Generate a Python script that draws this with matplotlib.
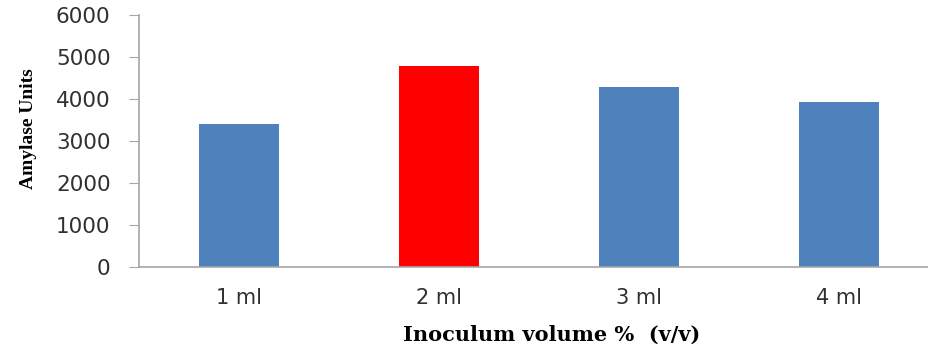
import matplotlib.pyplot as plt

categories = ["1 ml", "2 ml", "3 ml", "4 ml"]
amylase = [3400, 4780, 4290, 3920]
colors = ["#4f81bd", "#ff0000", "#4f81bd", "#4f81bd"]

fig = plt.figure(figsize=(9.29, 3.51), dpi=100)
ax = fig.add_axes([139 / 929, 84 / 351, 800 / 929, 252 / 351])

ax.bar(range(len(categories)), amylase, width=0.4, color=colors)
ax.set_xlim(-0.5, 3.5)
ax.set_ylim(0, 6000)
ax.set_yticks(range(0, 6001, 1000))
ax.set_xticks(range(len(categories)))
ax.set_xticklabels(categories)

for side in ["top", "right"]:
    ax.spines[side].set_visible(False)
for side in ["left", "bottom"]:
    ax.spines[side].set_color("#a6a6a6")
    ax.spines[side].set_linewidth(1.2)

ax.tick_params(axis="y", length=7.5, color="#a6a6a6", pad=13,
               labelsize=15.5, labelcolor="#303030")
ax.tick_params(axis="x", length=0, pad=15, labelsize=15, labelcolor="#303030")
for lbl in ax.get_xticklabels() + ax.get_yticklabels():
    lbl.set_family("DejaVu Sans")

ax.set_ylabel("Amylase Units", family="Liberation Serif", fontweight="bold",
              fontsize=14)
ax.yaxis.set_label_coords(-0.128, 0.55)
ax.set_xlabel("Inoculum volume %  (v/v)", family="DejaVu Serif",
              fontweight="bold", fontsize=15)
ax.xaxis.set_label_coords(0.516, -0.23)

fig.savefig("out.png", dpi=100)
